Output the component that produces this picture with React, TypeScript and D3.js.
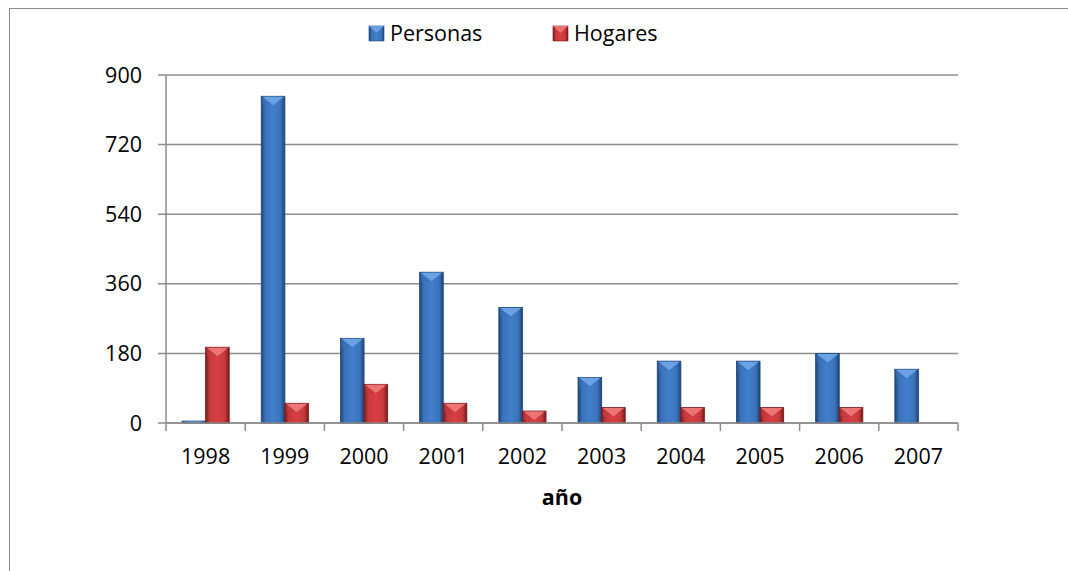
import * as d3 from "d3";

const years = ["1998", "1999", "2000", "2001", "2002", "2003", "2004", "2005", "2006", "2007"];
const personas = [5, 845, 219, 390, 299, 118, 160, 160, 180, 139];
const hogares = [196, 51, 100, 51, 31, 40, 40, 40, 40, 0];
const yTicks = [0, 180, 360, 540, 720, 900];

const WIDTH = 1068;
const HEIGHT = 571;
const MARGIN = { top: 75, right: 110, bottom: 148, left: 166 };
const FONT = "'Open Sans', 'Liberation Sans', sans-serif";
const FS = 21.5;

const SERIES = [
  { name: "Personas", values: personas, base: "#3b73bb", dark: "#1d4677", light: "#6fa6e8" },
  { name: "Hogares", values: hogares, base: "#c63a3c", dark: "#7a1a1c", light: "#ef7a7a" },
];

function Bar({ x, y, w, h, s }: { x: number; y: number; w: number; h: number; s: typeof SERIES[number] }) {
  if (h <= 0) return null;
  const b = Math.min(9, h);
  return (
    <g>
      <rect x={x + 1} y={y + 1} width={w} height={h} fill="#000" opacity={0.12} />
      <rect x={x} y={y} width={w} height={h} fill={`url(#grad-${s.name})`} stroke={s.dark} strokeWidth={0.8} />
      <polygon
        points={`${x + 1},${y + 0.5} ${x + w - 1},${y + 0.5} ${x + w / 2},${y + b}`}
        fill={s.light}
        opacity={0.9}
      />
      <polygon
        points={`${x + 1},${y + 0.5} ${x + w / 2},${y + b} ${x + 1},${y + b}`}
        fill={s.base}
        opacity={0.6}
      />
    </g>
  );
}

export default function App() {
  const boundsW = WIDTH - MARGIN.left - MARGIN.right;
  const boundsH = HEIGHT - MARGIN.top - MARGIN.bottom;

  const xScale = d3.scaleBand().domain(years).range([0, boundsW]);
  const inner = d3
    .scaleBand()
    .domain(SERIES.map((s) => s.name))
    .range([0, xScale.bandwidth()])
    .paddingOuter(0.68);
  const yScale = d3.scaleLinear().domain([0, 900]).range([boundsH, 0]);

  return (
    <svg
      width={WIDTH}
      height={HEIGHT}
      style={{ position: "absolute", left: 0, top: 0, background: "#fff" }}
      fontFamily={FONT}
    >
      <defs>
        {SERIES.map((s) => (
          <linearGradient key={s.name} id={`grad-${s.name}`} x1="0" x2="1" y1="0" y2="0">
            <stop offset="0" stopColor={s.dark} />
            <stop offset="0.18" stopColor={s.base} />
            <stop offset="0.5" stopColor={d3.color(s.base)!.brighter(0.25).formatHex()} />
            <stop offset="0.82" stopColor={s.base} />
            <stop offset="1" stopColor={s.dark} />
          </linearGradient>
        ))}
      </defs>

      <rect x={9.5} y={8.5} width={WIDTH + 20} height={HEIGHT + 20} fill="none" stroke="#8c8c8c" strokeWidth={1} />

      {/* legend */}
      {SERIES.map((s, i) => {
        const lx = 369 + i * 184;
        return (
          <g key={s.name}>
            <rect x={lx} y={26} width={15} height={15} fill={`url(#grad-${s.name})`} stroke={s.dark} strokeWidth={0.6} />
            <polygon points={`${lx},${26} ${lx + 15},${26} ${lx + 7.5},${33}`} fill={s.light} opacity={0.85} />
            <text x={lx + 21} y={41} fontSize={FS} fill="#000">
              {s.name}
            </text>
          </g>
        );
      })}

      <g transform={`translate(${MARGIN.left},${MARGIN.top})`}>
        {yTicks.map((t) => (
          <g key={t}>
            <line x1={-8} x2={boundsW} y1={yScale(t)} y2={yScale(t)} stroke="#8c8c8c" strokeWidth={1.5} />
            <text x={-24} y={yScale(t)} dy="0.35em" textAnchor="end" fontSize={FS} fill="#000">
              {t}
            </text>
          </g>
        ))}
        <line x1={0} x2={0} y1={0} y2={boundsH} stroke="#8c8c8c" strokeWidth={1.5} />
        {years.map((yr) => (
          <line
            key={yr}
            x1={xScale(yr)!}
            x2={xScale(yr)!}
            y1={boundsH}
            y2={boundsH + 8}
            stroke="#8c8c8c"
            strokeWidth={1.5}
          />
        ))}
        <line x1={boundsW} x2={boundsW} y1={boundsH} y2={boundsH + 8} stroke="#8c8c8c" strokeWidth={1.5} />

        {years.map((yr, i) => (
          <g key={yr} transform={`translate(${xScale(yr)},0)`}>
            {SERIES.map((s) => {
              const v = s.values[i];
              const y = yScale(v);
              return (
                <Bar key={s.name} x={inner(s.name)!} y={y} w={inner.bandwidth()} h={boundsH - y} s={s} />
              );
            })}
            <text x={xScale.bandwidth() / 2} y={boundsH + 41} textAnchor="middle" fontSize={FS} fill="#000">
              {yr}
            </text>
          </g>
        ))}
        <line x1={0} x2={boundsW} y1={boundsH} y2={boundsH} stroke="#8c8c8c" strokeWidth={1.5} />

        <text x={boundsW / 2} y={boundsH + 82} textAnchor="middle" fontSize={FS} fontWeight="bold" fill="#000">
          año
        </text>
      </g>
    </svg>
  );
}
